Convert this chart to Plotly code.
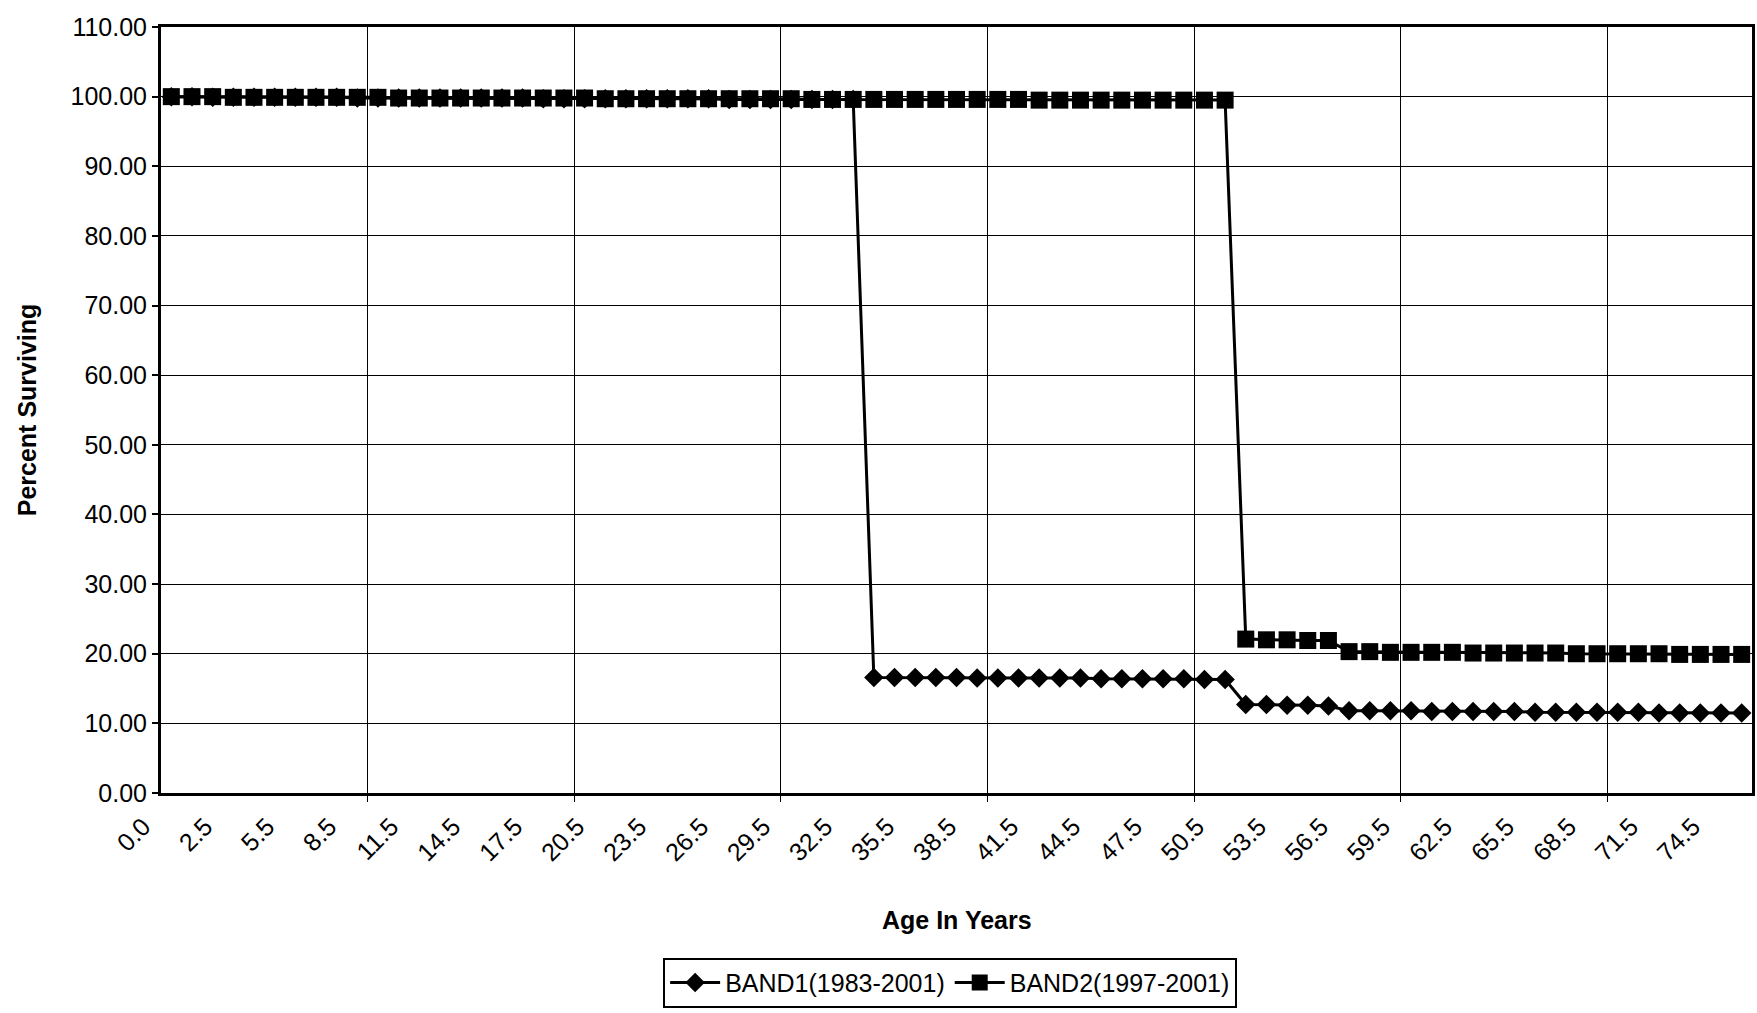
import plotly.graph_objects as go

# Age categories (years) along the x axis
ages = [
    "0.0", "0.5", "1.5", "2.5", "3.5", "4.5", "5.5", "6.5", "7.5", "8.5",
    "9.5", "10.5", "11.5", "12.5", "13.5", "14.5", "15.5", "16.5", "17.5", "18.5",
    "19.5", "20.5", "21.5", "22.5", "23.5", "24.5", "25.5", "26.5", "27.5", "28.5",
    "29.5", "30.5", "31.5", "32.5", "33.5", "34.5", "35.5", "36.5", "37.5", "38.5",
    "39.5", "40.5", "41.5", "42.5", "43.5", "44.5", "45.5", "46.5", "47.5", "48.5",
    "49.5", "50.5", "51.5", "52.5", "53.5", "54.5", "55.5", "56.5", "57.5", "58.5",
    "59.5", "60.5", "61.5", "62.5", "63.5", "64.5", "65.5", "66.5", "67.5", "68.5",
    "69.5", "70.5", "71.5", "72.5", "73.5", "74.5", "75.5",
]

# Labelled ages on the category axis
tick_labels = [
    "0.0", "2.5", "5.5", "8.5", "11.5", "14.5", "17.5", "20.5", "23.5", "26.5",
    "29.5", "32.5", "35.5", "38.5", "41.5", "44.5", "47.5", "50.5", "53.5", "56.5",
    "59.5", "62.5", "65.5", "68.5", "71.5", "74.5",
]

# Category boundaries that carry vertical gridlines
grid_after = ["8.5", "18.5", "28.5", "38.5", "48.5", "58.5", "68.5"]

y_ticks = [0, 10, 20, 30, 40, 50, 60, 70, 80, 90, 100, 110]

# Percent surviving, BAND1 (1983-2001)
band1 = (
    [100.0] * 2 + [99.9] * 7 + [99.8] * 9 + [99.7] * 9 + [99.6] * 7
    + [16.6] * 5 + [16.5] * 6 + [16.4] * 5 + [16.3] * 2
    + [12.7, 12.7, 12.6, 12.6, 12.5]
    + [11.8] * 4 + [11.7] * 5 + [11.6] * 6 + [11.5] * 5
)

# Percent surviving, BAND2 (1997-2001)
band2 = (
    [100.0] * 3 + [99.9] * 8 + [99.8] * 10 + [99.7] * 10 + [99.6] * 11 + [99.5] * 10
    + [22.1, 22.0, 22.0, 21.9, 21.9]
    + [20.3, 20.3, 20.2, 20.2, 20.2, 20.2, 20.1, 20.1, 20.1, 20.1,
       20.1, 20.0, 20.0, 20.0, 20.0, 20.0, 19.9, 19.9, 19.9, 19.9]
)

pos = list(range(len(ages)))
tick_pos = [ages.index(t) for t in tick_labels]
grid_pos = [ages.index(a) + 0.5 for a in grid_after]

FONT = "Liberation Sans, Arial, sans-serif"

fig = go.Figure()
fig.add_trace(go.Scatter(
    x=pos, y=band1, name="BAND1(1983-2001)", mode="lines+markers",
    line=dict(color="black", width=3),
    marker=dict(symbol="diamond", size=15, color="black"),
))
fig.add_trace(go.Scatter(
    x=pos, y=band2, name="BAND2(1997-2001)", mode="lines+markers",
    line=dict(color="black", width=3),
    marker=dict(symbol="square", size=17, color="black"),
))

fig.update_layout(
    width=1757, height=1013,
    margin=dict(l=161, r=5, t=27, b=195),
    paper_bgcolor="white", plot_bgcolor="white",
    font=dict(family=FONT, color="black", size=24),
    showlegend=True,
    legend=dict(
        orientation="h", x=0.496, xanchor="center", y=-0.215, yanchor="top",
        bordercolor="black", borderwidth=2, bgcolor="white",
        font=dict(size=25, family=FONT, color="black"),
        itemwidth=50, tracegroupgap=0,
    ),
    # x-axis title placed below the rotated age labels
    annotations=[dict(
        text="<b>Age In Years</b>", xref="paper", yref="paper",
        x=0.5, y=-0.166, xanchor="center", yanchor="middle",
        showarrow=False, font=dict(size=25, family=FONT, color="black"),
    )],
)

fig.update_xaxes(
    automargin=False,
    range=[-0.5, len(ages) - 0.5],
    tickmode="array", tickvals=tick_pos, ticktext=tick_labels,
    tickangle=-45, ticks="", showgrid=False,
    ticklabelstandoff=6, ticklabelshift=-28,
    tickfont=dict(size=25, family=FONT, color="black"),
    minor=dict(tickmode="array", tickvals=grid_pos, showgrid=True,
               gridcolor="black", gridwidth=1.2, ticks="outside",
               ticklen=6, tickwidth=1.2, tickcolor="black"),
    showline=True, linecolor="black", linewidth=3, mirror=True,
    zeroline=False,
)

fig.update_yaxes(
    automargin=False,
    range=[0, 110], tickmode="array", tickvals=y_ticks, tickformat=".2f",
    ticks="outside", ticklen=6, tickwidth=1.5, tickcolor="black",
    showgrid=True, gridcolor="black", gridwidth=1.2,
    showline=True, linecolor="black", linewidth=3, mirror=True,
    zeroline=False,
    tickfont=dict(size=25, family=FONT, color="black"),
    title=dict(text="<b>Percent Surviving</b>", font=dict(size=25, family=FONT),
               standoff=27),
)

fig.write_html("out.html")
